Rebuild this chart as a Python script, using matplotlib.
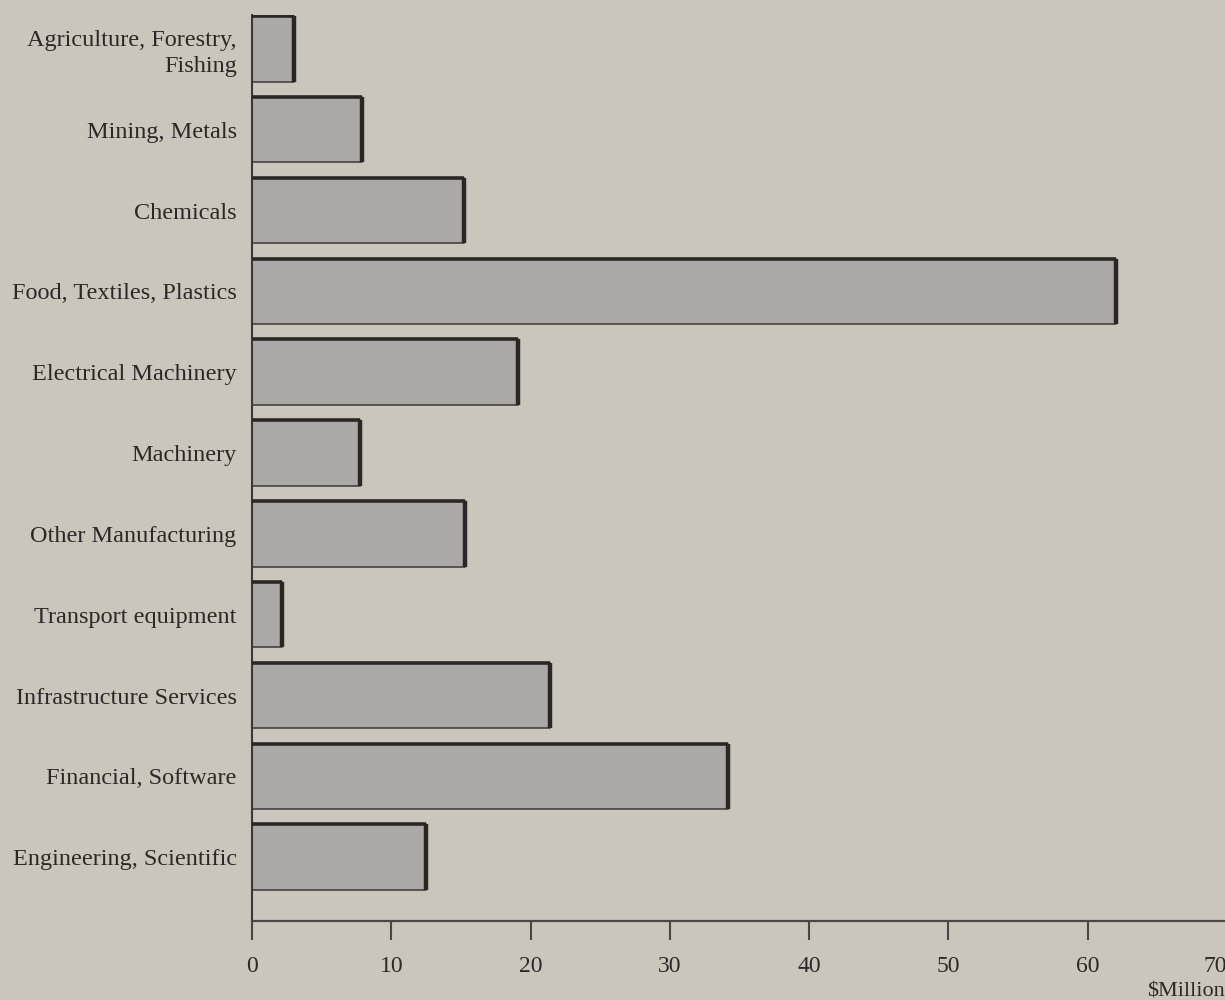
import matplotlib
matplotlib.use("Agg")
import matplotlib.pyplot as plt

# Investment by industry sector ($ million)
sectors = [
    "Agriculture, Forestry,\nFishing",
    "Mining, Metals",
    "Chemicals",
    "Food, Textiles, Plastics",
    "Electrical Machinery",
    "Machinery",
    "Other Manufacturing",
    "Transport equipment",
    "Infrastructure Services",
    "Financial, Software",
    "Engineering, Scientific",
]
values = [3.0, 7.9, 15.2, 62.0, 19.1, 7.75, 15.3, 2.15, 21.4, 34.2, 12.5]
x_ticks = [0, 10, 20, 30, 40, 50, 60, 70]
x_label = "\\$Million"

paper = "#cbc6bc"
bar_fill = "#aba9a6"
ink = "#2a2727"
text_col = "#2c2828"

plt.rcParams["font.family"] = ["Liberation Serif", "DejaVu Serif"]

fig = plt.figure(figsize=(12.25, 10), dpi=100, facecolor=paper)
ax = fig.add_axes([252 / 1225, 1 - 921 / 1000, (1227 - 252) / 1225, (921 - 15) / 1000])
ax.set_facecolor(paper)

pos = list(range(len(sectors)))
bh = 0.81
ax.barh(pos, values, height=bh, color=bar_fill, edgecolor="#3a3838",
        linewidth=1.1, zorder=2)

# heavier shadow strokes on the top and right edge of every bar
for p, v in zip(pos, values):
    top = p - bh / 2
    bot = p + bh / 2
    ax.plot([0, v], [top, top], color=ink, lw=2.6, solid_capstyle="butt", zorder=3)
    ax.plot([v, v], [top, bot], color=ink, lw=3.2, solid_capstyle="butt", zorder=3)

ax.set_xlim(0, 70)
ax.set_ylim(10.79, -0.42)
ax.set_xticks(x_ticks)
ax.set_xticklabels([str(t) for t in x_ticks])
ax.set_yticks(pos)
ax.set_yticklabels(sectors, linespacing=1.3)
# nudge the two-line label up a little so it sits level with its bar
ax.get_yticklabels()[0].set_y(-0.05)

for s in ("top", "right"):
    ax.spines[s].set_visible(False)
ax.spines["left"].set_color("#3a3838")
ax.spines["left"].set_linewidth(1.5)
ax.spines["bottom"].set_color("#4a4747")
ax.spines["bottom"].set_linewidth(1.6)

ax.tick_params(axis="y", length=0, pad=11, labelsize=17.5, labelcolor=text_col)
ax.tick_params(axis="x", direction="out", length=14, width=1.5, color="#4a4747",
               pad=11, labelsize=17, labelcolor=text_col)

# the last tick sits on the page edge, so its label is set flush right
ax.get_xticklabels()[-1].set_horizontalalignment("right")

fig.text(0.9995, -0.001, x_label, ha="right", va="bottom", fontsize=16, color=text_col)

fig.savefig("out.png", dpi=100, facecolor=paper)
